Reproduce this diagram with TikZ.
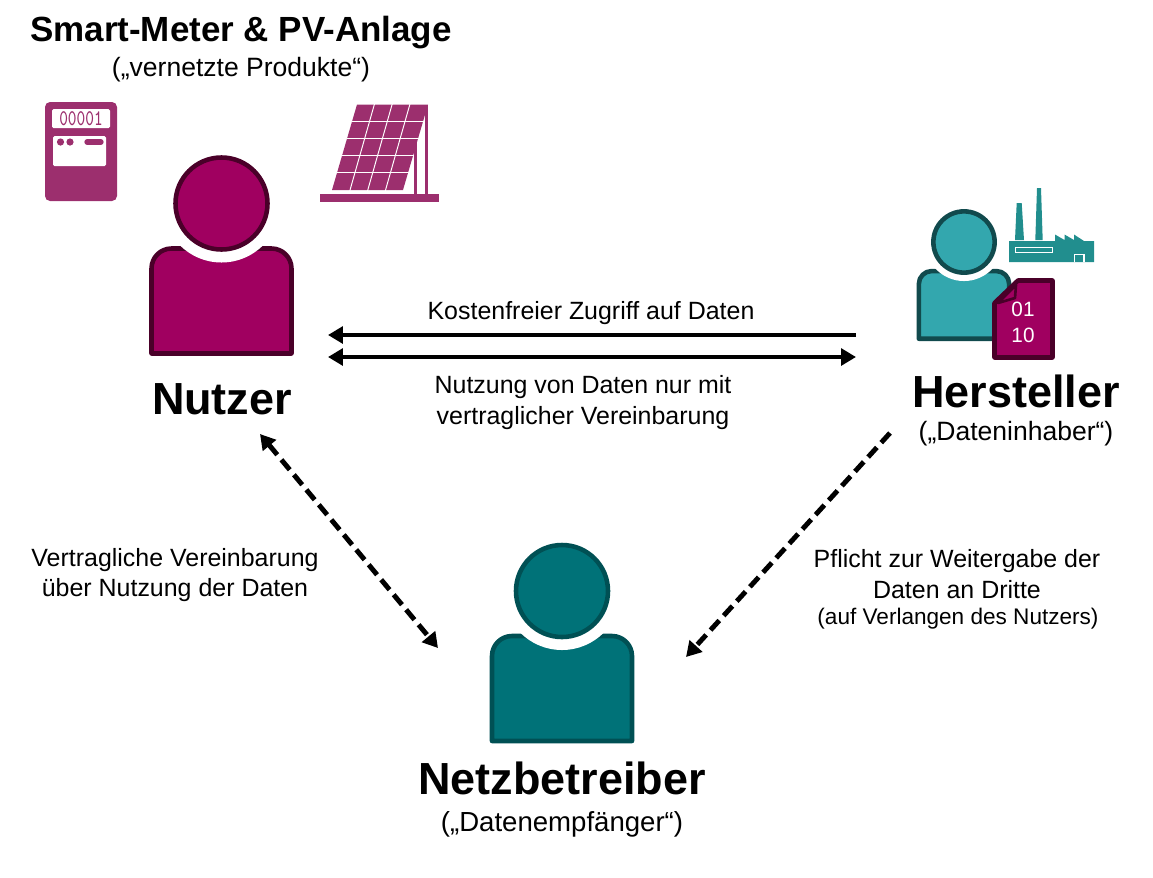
\documentclass[tikz,border=0pt]{standalone}
\usepackage{fontspec}
\setmainfont{Liberation Sans}
\usetikzlibrary{arrows.meta}

\definecolor{nutzerfill}{HTML}{A00060}
\definecolor{nutzerline}{HTML}{4A0029}
\definecolor{netzfill}{HTML}{007278}
\definecolor{netzline}{HTML}{005054}
\definecolor{herstfill}{HTML}{33A7AE}
\definecolor{herstline}{HTML}{114A4D}
\definecolor{iconpink}{HTML}{9C2F6E}
\definecolor{iconteal}{HTML}{218E8E}

\tikzset{
  titletext/.style={font=\fontsize{19.9}{22}\selectfont\bfseries},
  nametext/.style={font=\fontsize{25.6}{28}\selectfont\bfseries},
  labeltext/.style={font=\fontsize{14.2}{17.2}\selectfont, align=center},
  roletext/.style={font=\fontsize{15.1}{18}\selectfont},
  smalltext/.style={font=\fontsize{12.85}{15}\selectfont},
  solid arrow/.style={black, line width=2.5pt, -{Triangle[length=8.5pt,width=9.5pt]}},
  both arrow/.style={black, line width=2.5pt, {Triangle[length=8.5pt,width=9.5pt]}-{Triangle[length=8.5pt,width=9.5pt]}},
  dash arrow/.style={black, line width=2.8pt, dash pattern=on 7.4pt off 3.7pt},
}

% position, scale, fill, line, head radius
\newcommand{\person}[5]{
\begin{scope}[shift={#1}, scale=#2]
\filldraw[fill=#3, draw=#4, line width=2.6pt, line join=round, rounded corners=#2*0.4cm] (-70,100) -- (-70,45) -- (70,45) -- (70,100) [sharp corners] -- (70,150) -- (-70,150) -- cycle;
\fill[white] (0,0) circle [radius=#5+13];
\filldraw[fill=#3, draw=#4, line width=2.6pt] (0,0) circle [radius=#5];
\end{scope}
}

\begin{document}
\begin{tikzpicture}[x=0.02cm, y=-0.02cm]

\useasboundingbox (0,0) rectangle (1153,877);

\person{(221.5,203.5)}{1}{nutzerfill}{nutzerline}{46}
\person{(562,591)}{1}{netzfill}{netzline}{46}
\person{(964,242)}{0.645}{herstfill}{herstline}{47.5}

% meter
\fill[iconpink, rounded corners=0.1cm] (45,102) rectangle (117,201);
\fill[white, rounded corners=0.03cm] (52,109) rectangle (110,128);
\fill[white, rounded corners=0.03cm] (53,136) rectangle (106,166);
\fill[iconpink] (60.5,142) circle [radius=3.6];
\fill[iconpink] (70,142) circle [radius=3.6];
\draw[iconpink, line width=3pt, line cap=round] (87,142) -- (101,142);
\node(digits) at (81,118.5) [iconpink, yscale=1.35, inner sep=0pt, font=\fontsize{9.4}{10}\ttfamily] {00001};

% solar panel
\fill[iconpink] (320,193.5) rectangle (439,201.5);
\fill[iconpink] (357,104.5) -- (428,104.5) -- (403,190) -- (332,190) -- cycle;
\foreach \row in {1,2,3,4}
  \draw[white, line width=0.55pt] ({357-\row*5},{104.5+\row*17.1}) -- ({432-\row*5},{104.5+\row*17.1});
\foreach \col in {1,2,3}
  \draw[white, line width=0.55pt] ({357+\col*17.75},103) -- ({332+\col*17.75},191);
\draw[iconpink, line width=1.5pt] (426.5,105) -- (426.5,194);
\draw[iconpink, line width=1.5pt] (415.5,140) -- (415.5,194);

% factory
\fill[iconteal] (1009,241) -- (1055,241) -- (1055,234.5) -- (1064.5,240) -- (1064.5,234.5) -- (1074,240) -- (1074,234.5) -- (1084,241) -- (1094,241) -- (1094,262) -- (1009,262) -- cycle;
\fill[iconteal] (1015,240) -- (1016.7,203) -- (1021.7,203) -- (1024,240) -- cycle;
\fill[iconteal] (1035.3,240) -- (1037,188) -- (1041,188) -- (1042.7,240) -- cycle;
\draw[white, line width=0.6pt] (1015.5,247.5) rectangle (1052.5,252.5);
\draw[white, line width=0.6pt] (1074.5,262) -- (1074.5,254.5) -- (1084,254.5) -- (1084,262);

% document
\filldraw[fill=nutzerfill, draw=nutzerline, line width=2.6pt, line join=round] (1018,280.5) -- (1052.5,280.5) -- (1052.5,357.5) -- (994.5,357.5) -- (994.5,303) -- cycle;
\filldraw[fill=nutzerfill, draw=nutzerline, line width=1.5pt, line join=round] (1016,285) -- (1015,298) -- (998,303) -- cycle;
\node(bit1) at (1023,309) [white, font=\fontsize{11.8}{14}\selectfont] {01};
\node(bit2) at (1023,335) [white, font=\fontsize{11.8}{14}\selectfont] {10};

% texts
\node(titel) at (241,33) [titletext] {Smart-Meter \& PV-Anlage};
\node(produkte) at (241,70) [roletext] {(„vernetzte Produkte“)};
\node(nutzer) at (222,399) [nametext] {Nutzer};
\node(hersteller) at (1016,391) [nametext] {Hersteller};
\node(inhaber) at (1016,434) [roletext] {(„Dateninhaber“)};
\node(netz) at (562,778) [nametext] {Netzbetreiber};
\node(empf) at (562,824) [roletext, font=\fontsize{15.7}{18}\selectfont] {(„Datenempfänger“)};
\node(zugriff) at (591,313) [labeltext] {Kostenfreier Zugriff auf Daten};
\node(nutzung) at (583,402.5) [labeltext] {Nutzung von Daten nur mit\\vertraglicher Vereinbarung};
\node(vertrag) at (175,575) [labeltext] {Vertragliche Vereinbarung\\über Nutzung der Daten};
\node(pflicht) at (957,574) [labeltext] {Pflicht zur Weitergabe der\\Daten an Dritte};
\node(verlangen) at (958,619) [smalltext] {(auf Verlangen des Nutzers)};

% connectors
\coordinate (a1) at (856,335);
\coordinate (a2) at (328,335);
\coordinate (b1) at (328,357);
\coordinate (b2) at (856,357);
\coordinate (c1) at (260,434);
\coordinate (c2) at (438,648);
\coordinate (d1) at (890,433);
\coordinate (d2) at (686,657);

\draw[solid arrow] (a1) -- (a2);
\draw[both arrow] (b1) -- (b2);
\draw[both arrow, dash arrow] (c1) -- (c2);
\draw[solid arrow, dash arrow] (d1) -- (d2);

\end{tikzpicture}
\end{document}
